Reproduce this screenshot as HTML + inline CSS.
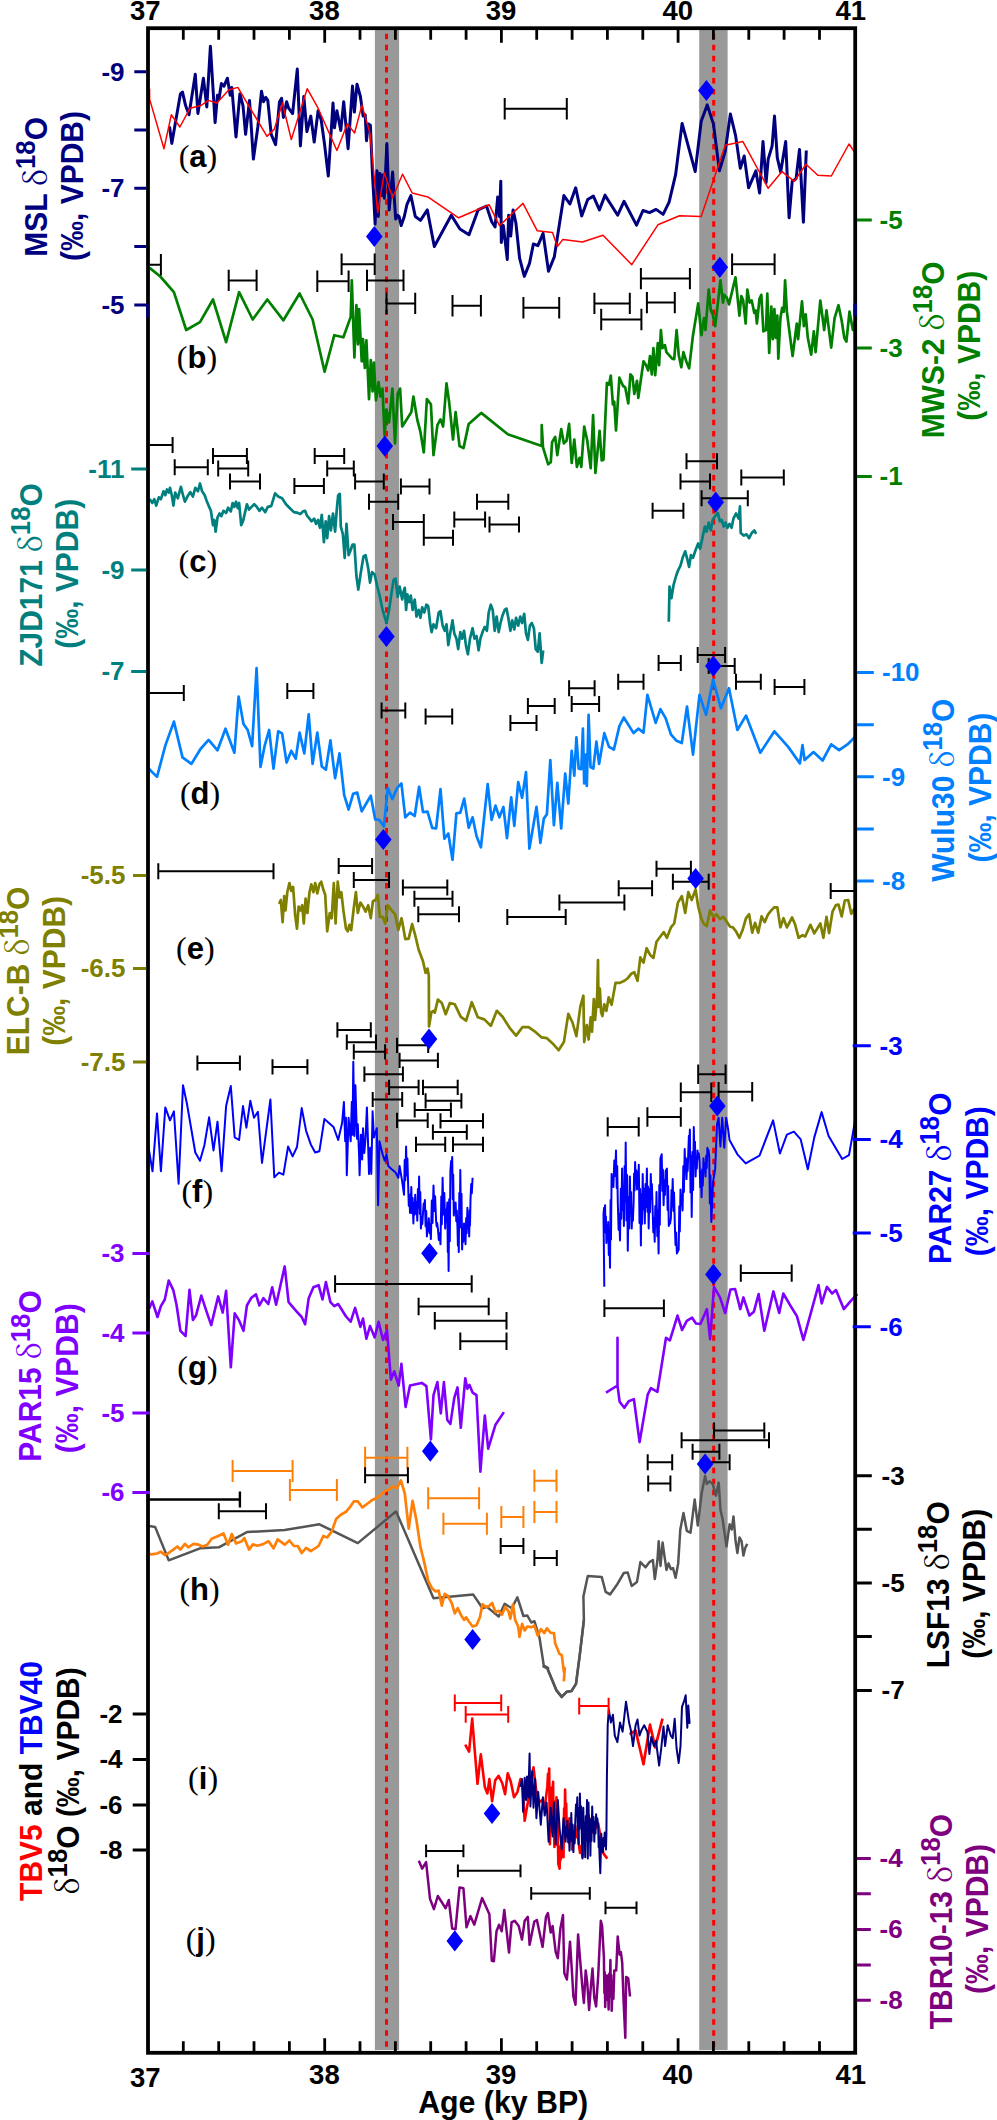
<!DOCTYPE html>
<html><head><meta charset="utf-8"><title>Figure</title>
<style>html,body{margin:0;padding:0;background:#fff}svg{display:block}.sa{font-family:"Liberation Sans",Arial,Helvetica,sans-serif;font-weight:bold}.sd{font-family:"Noto Serif CJK SC","Liberation Serif",serif;font-weight:normal}.se{font-family:"Liberation Serif","Times New Roman",serif;font-weight:normal}</style></head>
<body>
<svg width="997" height="2120" viewBox="0 0 997 2120">
<rect x="0" y="0" width="997" height="2120" fill="#fff"/>
<rect x="374.9" y="30" width="24.2" height="2020" fill="#999"/>
<rect x="699.2" y="30" width="28.4" height="2020" fill="#999"/>
<path d="M386.5 33.8V2050 M713.7 33.8V2050" stroke="#f00" stroke-width="3.0" stroke-dasharray="5.5 5.53" fill="none"/>
<polyline points="169.5,126.5 171.8,143.4 180.4,93.9 182.5,92.1 185.6,105.6 189.0,114.8 195.3,74.3 197.9,113.5 203.4,78.2 206.8,106.9 210.4,46.2 215.1,122.6 217.5,95.2 219.0,99.1 221.4,83.5 224.0,86.1 227.4,78.2 230.2,95.2 231.8,87.4 236.0,136.9 239.9,93.9 243.0,105.6 245.6,134.3 249.5,100.4 253.4,159.1 257.9,126.5 261.5,91.3 263.6,101.7 265.7,97.3 267.8,100.4 271.2,134.3 275.6,144.7 279.5,101.7 281.6,98.3 283.4,117.4 286.6,101.7 288.6,108.2 292.6,113.5 297.3,69.1 300.4,146.0 303.8,96.5 306.9,131.7 310.8,116.1 314.2,142.1 318.1,110.8 321.2,120.0 324.6,144.7 328.3,176.0 333.0,103.0 334.5,127.8 336.9,110.8 340.8,130.4 343.7,101.7 348.1,148.7 352.5,86.1 354.4,112.1 357.0,84.2 360.4,96.5 363.1,116.1 365.2,114.8 366.5,140.8 368.3,123.9 370.4,125.2 372.5,174.7 373.6,194.3 375.1,224.3 377.0,170.8 378.3,216.5 379.8,173.4 381.4,195.6 382.9,174.7 384.3,198.2 386.9,143.5 389.2,209.9 392.6,172.1 395.7,219.1 397.8,215.2 399.1,216.5 401.2,225.6 404.3,216.5 406.9,204.7 410.9,195.6 415.3,216.5 420.5,220.4 427.3,209.9 434.3,246.5 451.3,215.2 459.9,229.0 469.0,234.7 478.1,209.9 486.5,206.0 491.7,221.7 495.1,226.9 497.7,196.9 499.5,216.5 500.8,181.3 501.3,242.5 503.4,225.6 505.0,239.9 507.3,259.5 508.6,215.2 510.7,236.0 513.1,209.9 515.9,223.0 519.6,258.2 524.3,276.4 529.5,263.4 533.4,243.9 537.9,245.7 543.1,233.4 548.5,271.2 554.3,256.9 563.9,195.6 569.9,204.0 575.7,187.8 581.7,215.9 587.7,199.5 593.4,196.1 599.4,209.9 605.1,195.1 605.2,195.6 617.7,215.2 624.0,201.3 636.5,225.1 643.0,210.5 649.5,212.6 656.1,209.4 663.1,214.4 669.1,202.1 675.6,174.7 682.1,123.4 695.2,171.6 701.2,121.3 707.2,104.9 713.4,123.9 719.4,170.8 725.2,151.3 730.4,114.0 735.6,135.6 740.3,168.2 744.2,156.0 748.6,187.8 755.9,170.8 759.6,193.0 763.0,141.4 766.1,182.6 768.2,159.1 772.1,146.1 774.5,116.1 777.3,157.8 780.7,172.1 785.7,141.6 789.1,217.8 792.2,181.3 796.1,178.7 799.5,149.4 803.4,222.2 806.3,150.5" fill="none" stroke="#00007f" stroke-width="3.0" stroke-linejoin="round" />
<polyline points="149.6,88.7 149.6,99.1 164.0,148.7 171.3,114.8 179.9,127.0 190.1,108.2 200.8,105.6 208.3,100.4 216.9,103.0 228.7,90.0 237.8,87.4 267.0,136.4 274.3,129.1 282.4,103.0 291.3,139.5 307.2,88.7 318.1,108.2 336.9,150.5 347.3,123.9 354.6,133.0 361.9,105.1 369.9,133.0 377.7,212.6 384.3,172.7 392.6,197.7 402.5,174.2 412.2,193.0 427.8,196.9 458.6,217.8 489.1,204.7 499.5,225.6 523.0,203.4 537.3,230.8 552.5,232.6 557.4,246.5 562.9,239.4 582.4,242.0 603.0,235.2 631.8,264.7 657.9,224.8 679.5,215.7 701.2,216.5 725.2,145.3 742.9,141.6 768.2,188.3 782.0,171.6 794.3,181.3 806.0,164.3 817.8,175.3 831.3,176.0 849.0,144.0 855.0,152.6" fill="none" stroke="#ff0000" stroke-width="1.5" stroke-linejoin="round" />
<polyline points="149.6,267.9 160.3,276.5 173.9,292.2 186.2,330.0 200.0,322.1 213.0,299.5 226.1,342.2 239.1,292.2 252.7,319.5 267.3,299.5 283.4,320.3 299.6,293.5 312.6,319.5 324.6,371.7 334.3,335.2 343.4,337.3 350.7,316.9 351.8,280.4 354.4,357.4 356.4,305.2 358.0,344.3 359.1,309.1 361.7,361.3 363.0,339.1 364.8,367.8 366.4,340.4 369.0,399.1 370.8,360.0 372.6,391.3 373.9,362.6 376.0,400.4 378.6,382.1 380.4,396.5 382.5,388.6 384.6,435.6 386.4,409.5 389.0,422.5 392.4,388.6 395.0,443.4 397.7,393.9 400.1,388.6 402.2,426.5 404.8,422.5 411.3,412.1 413.4,396.5 417.3,419.9 420.4,431.7 423.8,452.5 426.9,399.1 430.9,404.3 433.5,455.1 437.4,425.2 440.5,419.4 443.1,426.5 446.5,383.4 449.1,401.7 453.0,439.5 455.6,412.1 459.5,446.0 463.5,448.1 468.7,423.9 481.2,412.9 507.8,434.3 541.7,446.0 541.7,425.2 543.0,447.3 548.2,464.3 550.8,462.2 552.1,442.1 555.2,436.9 557.3,455.1 561.2,429.1 563.9,443.4 566.5,440.8 569.1,423.9 571.7,463.0 574.3,439.5 576.9,466.9 579.5,457.8 581.3,466.9 584.2,426.5 587.3,440.8 590.7,468.2 593.1,415.2 595.4,472.9 599.6,430.9 601.7,460.4 603.5,459.8 606.9,382.9 609.0,384.7 610.8,375.6 612.9,404.3 614.2,401.7 616.0,430.4 619.4,377.7 623.1,386.0 625.2,387.3 628.3,403.5 630.4,374.3 632.5,376.9 634.3,393.9 637.0,380.8 638.3,397.8 643.5,361.3 646.1,365.2 648.2,370.4 650.0,356.0 651.8,374.3 653.4,348.2 655.2,375.1 657.8,343.0 659.1,365.2 660.9,330.0 662.5,348.2 664.9,345.1 666.4,352.1 672.2,358.7 674.2,359.2 676.6,330.0 678.7,354.7 681.3,367.3 683.4,352.1 686.5,362.0 689.1,368.3 693.0,335.2 698.2,303.4 701.4,335.2 704.0,318.2 705.5,330.0 708.7,289.5 710.8,310.4 712.6,313.8 715.2,326.1 720.4,280.4 723.0,302.6 724.3,294.8 726.9,297.9 729.0,304.4 735.5,277.3 739.4,315.6 741.3,296.1 743.1,300.0 745.7,323.5 747.3,289.5 749.6,302.6 751.7,300.5 754.3,313.0 755.6,310.4 756.9,323.5 759.5,298.7 761.3,294.8 763.4,331.3 766.0,330.0 767.3,293.5 769.2,352.9 771.3,306.5 772.8,339.1 774.4,309.1 775.7,337.8 777.3,315.6 778.3,358.7 780.4,318.2 782.2,307.8 783.8,311.7 785.1,280.4 786.9,311.7 788.7,326.1 792.6,356.0 796.8,323.5 798.1,339.1 802.0,301.3 803.9,326.1 805.7,314.3 807.8,337.8 811.2,354.7 813.8,331.3 815.6,352.1 820.3,300.5 824.2,330.0 826.5,310.4 831.2,347.7 834.6,318.2 838.5,305.2 841.7,320.8 844.3,337.8 846.4,341.7 849.5,311.7 852.9,330.0 856.0,318.2" fill="none" stroke="#007f00" stroke-width="2.7" stroke-linejoin="round" />
<path d="M504.7 108.8 H566.8 M504.7 98.1 V119.5 M566.8 98.1 V119.5 M149.6 264.8 H160.9 M160.9 254.1 V275.5 M228.7 280.4 H256.6 M228.7 269.7 V291.1 M256.6 269.7 V291.1 M317.3 281.2 H348.6 M317.3 270.5 V291.9 M348.6 270.5 V291.9 M341.6 264.3 H374.7 M341.6 253.6 V275.0 M374.7 253.6 V275.0 M367.0 280.4 H403.5 M367.0 269.7 V291.1 M403.5 269.7 V291.1 M386.5 303.4 H415.2 M386.5 292.7 V314.1 M415.2 292.7 V314.1 M452.5 305.7 H480.9 M452.5 295.0 V316.4 M480.9 295.0 V316.4 M523.4 307.8 H559.2 M523.4 297.1 V318.5 M559.2 297.1 V318.5 M594.4 303.4 H629.8 M594.4 292.7 V314.1 M629.8 292.7 V314.1 M601.2 319.5 H641.4 M601.2 308.8 V330.2 M641.4 308.8 V330.2 M640.9 278.6 H689.9 M640.9 267.9 V289.3 M689.9 267.9 V289.3 M646.9 302.6 H674.8 M646.9 291.9 V313.3 M674.8 291.9 V313.3 M732.1 264.3 H774.6 M732.1 253.6 V275.0 M774.6 253.6 V275.0" fill="none" stroke="#000" stroke-width="2.0"/>
<polyline points="149.6,499.1 152.3,503.0 154.3,499.1 156.2,505.6 158.8,497.3 160.9,499.1 163.5,491.3 165.3,495.2 166.9,489.5 168.7,492.6 170.0,487.9 171.8,495.2 173.4,505.6 175.2,492.6 177.8,498.3 180.9,486.9 183.0,495.2 184.9,501.7 188.2,495.2 190.3,492.1 192.9,496.5 195.3,487.9 197.9,491.3 200.0,483.5 202.1,491.3 204.7,495.2 206.5,500.4 208.6,505.6 210.9,510.8 213.0,525.2 214.3,520.0 215.6,531.7 217.5,517.4 219.5,513.5 221.4,516.1 223.5,510.8 226.1,512.9 228.1,507.7 230.8,511.4 232.6,503.0 234.4,506.9 236.0,501.7 237.8,508.2 239.1,503.0 241.2,525.2 243.0,521.3 245.1,512.1 246.9,504.3 249.0,509.5 251.6,506.9 254.2,504.3 256.8,506.9 259.4,510.8 262.0,507.7 265.2,512.1 267.8,506.9 271.2,506.1 275.1,493.4 278.2,496.5 282.1,498.3 286.0,504.3 289.9,508.2 293.9,512.1 297.8,512.9 300.4,514.0 303.0,511.4 305.1,510.8 306.9,515.5 309.5,518.7 311.6,521.3 314.2,518.7 316.0,523.9 318.1,520.0 319.9,527.8 321.8,514.8 323.9,542.1 325.7,521.3 327.2,538.2 329.1,516.1 330.9,530.4 333.0,513.5 335.1,531.7 336.9,508.2 338.2,495.2 339.8,493.9 340.8,526.5 342.9,534.3 344.7,557.8 346.5,523.9 348.6,555.2 350.7,550.0 352.5,544.7 354.4,544.7 356.4,576.0 358.3,589.6 361.1,570.8 363.5,556.5 365.6,555.2 368.2,568.2 370.0,582.6 372.1,572.1 374.7,574.7 377.3,586.5 379.9,596.9 382.6,609.9 386.5,623.0 389.1,609.9 391.7,591.7 393.6,579.9 395.6,578.6 397.7,596.9 399.6,586.5 402.2,599.5 403.5,591.7 404.8,587.8 406.1,609.9 407.4,594.3 409.2,602.1 410.8,595.6 412.6,609.9 414.7,599.5 416.5,616.5 418.6,609.9 420.4,617.8 422.2,607.3 424.3,612.5 426.4,604.7 428.2,606.0 430.1,623.0 431.6,632.1 433.5,624.3 436.1,628.2 438.7,612.5 440.5,611.2 442.6,625.6 444.7,630.8 446.5,624.3 448.3,645.1 450.4,632.1 452.5,620.4 454.3,633.4 456.4,638.6 458.2,649.1 460.3,632.1 462.1,638.6 464.0,630.8 466.1,646.4 467.9,654.3 470.0,638.6 472.6,628.2 474.4,638.6 476.5,636.0 478.6,650.4 480.4,638.6 483.0,630.8 484.8,626.9 486.9,630.8 488.7,612.5 490.8,604.7 492.7,609.9 494.7,630.8 496.6,616.5 498.7,632.1 500.5,623.0 502.6,615.2 504.7,609.9 506.5,608.6 508.3,617.8 510.4,630.8 512.2,620.4 514.3,629.5 516.1,617.8 518.2,625.6 520.3,616.5 522.1,623.0 524.2,613.9 526.0,633.4 527.9,639.9 529.9,625.6 531.8,623.0 533.9,628.2 535.7,649.1 537.8,651.7 539.6,633.4 541.7,662.9 543.2,650.4" fill="none" stroke="#007f7f" stroke-width="2.7" stroke-linejoin="round" />
<polyline points="668.8,621.7 669.5,586.5 671.4,598.2 673.5,585.2 676.1,576.0 677.9,570.8 680.5,565.6 682.6,557.8 685.2,551.3 687.3,559.1 689.1,566.9 690.9,555.2 693.0,557.8 695.6,550.0 698.2,543.4 700.1,548.7 702.1,539.5 704.8,526.5 706.6,531.7 708.7,522.6 710.8,530.4 712.6,520.0 715.2,516.1 717.8,512.9 719.9,521.3 721.7,520.0 723.8,526.5 725.6,522.6 727.4,527.8 729.5,523.9 731.6,527.8 733.4,518.7 736.0,513.5 738.7,518.7 740.0,506.4 740.7,533.0 743.9,535.6 746.5,534.3 749.1,538.2 751.7,533.0 754.3,530.4 756.1,533.8" fill="none" stroke="#007f7f" stroke-width="2.7" stroke-linejoin="round" />
<path d="M149.6 445.1 H172.6 M172.6 437.1 V453.1 M174.7 467.3 H207.8 M174.7 459.3 V475.3 M207.8 459.3 V475.3 M213.0 456.1 H246.9 M213.0 448.1 V464.1 M246.9 448.1 V464.1 M218.2 468.6 H248.2 M218.2 460.6 V476.6 M248.2 460.6 V476.6 M230.0 481.4 H260.0 M230.0 473.4 V489.4 M260.0 473.4 V489.4 M294.4 486.1 H323.9 M294.4 478.1 V494.1 M323.9 478.1 V494.1 M314.7 456.1 H344.2 M314.7 448.1 V464.1 M344.2 448.1 V464.1 M327.2 468.6 H353.8 M327.2 460.6 V476.6 M353.8 460.6 V476.6 M355.1 481.4 H383.8 M355.1 473.4 V489.4 M383.8 473.4 V489.4 M369.0 501.7 H398.2 M369.0 493.7 V509.7 M398.2 493.7 V509.7 M400.9 486.6 H429.5 M400.9 478.6 V494.6 M429.5 478.6 V494.6 M393.0 522.1 H423.8 M393.0 514.1 V530.1 M423.8 514.1 V530.1 M423.8 537.7 H453.0 M423.8 529.7 V545.7 M453.0 529.7 V545.7 M454.3 519.4 H485.1 M454.3 511.4 V527.4 M485.1 511.4 V527.4 M477.0 501.7 H508.3 M477.0 493.7 V509.7 M508.3 493.7 V509.7 M489.5 524.4 H519.0 M489.5 516.4 V532.4 M519.0 516.4 V532.4 M686.5 461.3 H717.0 M686.5 453.3 V469.3 M717.0 453.3 V469.3 M680.5 481.4 H710.0 M680.5 473.4 V489.4 M710.0 473.4 V489.4 M741.3 477.5 H783.8 M741.3 469.5 V485.5 M783.8 469.5 V485.5 M701.6 498.3 H747.8 M701.6 490.3 V506.3 M747.8 490.3 V506.3 M652.6 510.8 H683.4 M652.6 502.8 V518.8 M683.4 502.8 V518.8" fill="none" stroke="#000" stroke-width="2.0"/>
<polyline points="147.8,767.8 157.0,776.9 165.3,745.6 173.9,721.6 182.5,757.4 191.4,763.9 200.5,749.0 208.6,739.9 217.5,750.3 225.5,728.7 234.4,752.7 238.6,696.6 243.5,724.0 247.7,730.0 252.1,746.1 256.6,668.2 260.5,767.0 264.7,745.6 269.1,730.0 273.5,768.6 278.2,731.3 282.1,733.4 286.6,762.6 291.3,750.8 295.7,758.7 299.6,732.6 304.3,753.4 308.7,714.3 312.6,763.9 317.3,732.6 321.8,766.5 325.9,769.6 330.4,740.4 335.1,778.2 339.5,753.4 344.2,795.2 348.6,809.5 353.1,793.9 357.2,792.6 361.7,811.3 370.8,795.7 375.2,819.4 379.4,819.9 383.9,826.5 387.8,788.1 392.3,799.1 397.0,788.1 401.4,783.4 405.3,817.3 410.0,812.6 414.7,816.0 419.1,786.8 423.0,812.1 427.5,811.6 432.2,827.8 436.1,828.5 440.5,789.2 444.4,838.7 448.3,833.5 452.5,859.8 456.4,813.4 460.3,812.6 464.2,798.6 468.7,827.8 472.6,817.3 476.5,836.1 480.9,847.3 487.7,784.2 491.6,819.9 495.5,805.6 499.4,817.3 503.4,806.9 507.0,838.2 511.2,797.3 514.3,825.9 518.2,782.1 522.1,797.8 526.0,772.2 529.4,848.6 536.5,806.9 540.4,842.9 543.8,818.6 546.9,814.2 550.3,760.0 553.9,825.2 557.3,782.9 561.2,828.3 565.2,773.5 568.3,803.5 571.7,750.8 574.3,775.6 576.4,737.3 578.7,768.6 581.3,769.1 582.9,728.7 584.2,783.4 586.0,754.7 586.8,786.0 588.6,714.8 590.5,767.0 593.3,768.6 596.4,741.7 599.1,763.9 604.3,733.1 609.0,746.9 613.9,749.5 619.4,726.1 623.8,717.5 633.6,733.1 638.3,728.7 643.5,732.6 647.4,694.8 655.7,722.9 660.4,709.1 665.6,718.2 670.9,734.4 676.1,740.4 681.8,743.0 687.0,706.5 693.0,754.7 699.5,694.8 706.1,714.8 713.1,679.6 720.9,708.3 729.0,688.2 737.4,730.0 746.0,715.6 760.3,752.7 774.4,731.3 788.2,746.9 799.9,763.4 802.5,745.1 804.6,760.0 813.5,752.1 822.6,760.5 831.2,744.3 839.1,750.1 848.2,743.8 856.0,736.0" fill="none" stroke="#007fff" stroke-width="2.7" stroke-linejoin="round" />
<path d="M149.6 692.9 H183.8 M183.8 684.9 V700.9 M287.3 690.9 H313.4 M287.3 682.9 V698.9 M313.4 682.9 V698.9 M381.6 710.4 H405.3 M381.6 702.4 V718.4 M405.3 702.4 V718.4 M425.6 716.4 H452.2 M425.6 708.4 V724.4 M452.2 708.4 V724.4 M510.4 722.9 H536.5 M510.4 714.9 V730.9 M536.5 714.9 V730.9 M527.9 706.0 H554.7 M527.9 698.0 V714.0 M554.7 698.0 V714.0 M569.1 688.2 H594.6 M569.1 680.2 V696.2 M594.6 680.2 V696.2 M571.7 703.9 H599.1 M571.7 695.9 V711.9 M599.1 695.9 V711.9 M618.2 681.7 H643.5 M618.2 673.7 V689.7 M643.5 673.7 V689.7 M658.6 662.9 H680.8 M658.6 654.9 V670.9 M680.8 654.9 V670.9 M697.7 655.1 H725.1 M697.7 647.1 V663.1 M725.1 647.1 V663.1 M708.7 666.1 H734.7 M708.7 658.1 V674.1 M734.7 658.1 V674.1 M736.0 681.7 H760.8 M736.0 673.7 V689.7 M760.8 673.7 V689.7 M774.6 686.9 H804.4 M774.6 678.9 V694.9 M804.4 678.9 V694.9" fill="none" stroke="#000" stroke-width="2.0"/>
<polyline points="279.0,903.9 280.8,900.0 282.6,922.1 284.2,896.1 285.5,910.4 287.3,892.2 289.4,883.0 291.3,890.9 293.1,886.9 295.2,915.6 297.0,928.7 298.6,906.5 300.4,910.4 302.2,905.2 303.8,923.5 305.6,898.7 307.4,913.0 309.5,892.2 311.3,884.3 313.4,892.2 315.2,883.0 317.3,893.5 319.4,884.3 321.2,881.7 323.3,889.5 325.2,894.8 327.2,931.3 329.8,913.0 331.7,918.2 333.8,883.0 335.6,923.5 337.7,881.7 339.5,897.4 341.3,892.2 343.4,910.4 346.0,928.7 347.8,931.3 349.4,924.8 351.2,930.0 353.8,907.8 355.9,892.2 357.8,913.0 360.4,902.6 363.0,906.5 365.6,911.7 368.2,905.2 370.8,918.2 372.9,901.3 375.5,900.0 377.8,894.8 379.9,916.9 382.6,916.9 385.2,923.5 387.8,905.2 391.7,910.4 395.1,914.3 398.3,930.0 401.6,918.2 405.3,939.1 408.7,938.6 412.1,924.0 415.2,935.2 418.6,949.5 423.0,961.3 425.6,973.0 427.5,968.6 428.8,975.6 429.0,1026.5 431.4,1012.1 433.5,1010.8 434.8,1012.6 437.9,999.6 441.8,1003.0 445.7,1014.2 449.9,1003.0 454.8,1004.3 460.8,1016.8 466.1,1020.7 471.8,1002.2 477.8,1017.3 484.3,1019.4 490.8,1025.9 496.8,1010.8 502.6,1016.8 509.6,1027.8 516.1,1035.6 522.6,1027.0 528.6,1027.2 535.7,1032.2 541.7,1037.4 546.9,1038.2 552.6,1043.4 558.6,1050.2 563.9,1042.1 568.3,1013.9 572.5,1022.5 576.4,1036.1 580.3,1006.9 583.4,995.7 584.2,1042.1 586.8,1025.2 588.6,1039.5 590.7,1017.3 592.0,1031.7 593.8,999.1 595.1,1019.9 597.2,995.2 598.0,960.0 598.5,1006.9 599.8,988.6 601.1,1012.1 602.4,1016.0 604.3,1004.3 606.4,1010.8 608.7,997.3 611.6,1004.8 615.5,982.9 619.9,982.9 624.4,980.8 627.8,978.2 631.2,973.8 634.3,972.2 637.5,980.8 640.3,957.4 643.5,962.6 646.6,948.2 650.0,954.7 653.4,957.9 656.5,941.7 660.4,936.5 663.8,932.1 666.9,937.8 670.9,927.4 674.2,923.5 677.9,902.6 681.8,896.1 685.2,913.0 688.3,892.2 691.7,900.0 695.6,889.5 698.2,906.5 700.8,916.9 703.5,923.5 706.8,926.1 710.0,910.4 713.4,916.9 716.5,914.3 719.9,919.0 723.5,916.9 726.9,922.1 730.1,926.8 732.9,927.4 736.0,931.3 739.4,937.8 742.6,930.0 746.0,918.2 749.1,914.3 752.2,932.6 755.1,922.9 758.2,932.6 761.6,916.4 764.7,922.1 768.1,914.3 771.3,910.4 774.4,907.3 777.3,907.3 780.4,927.4 783.5,918.2 786.9,927.4 792.1,917.5 795.2,924.8 798.6,937.8 802.5,935.2 805.2,936.5 810.4,924.8 814.3,933.4 820.3,923.5 823.4,937.8 826.5,916.9 829.1,933.1 832.5,911.7 835.9,905.2 838.5,904.7 841.7,916.4 844.8,900.5 848.2,900.0 851.3,913.8 854.7,908.3" fill="none" stroke="#7f7f00" stroke-width="2.7" stroke-linejoin="round" />
<path d="M158.3 871.3 H273.5 M158.3 863.3 V879.3 M273.5 863.3 V879.3 M338.7 866.1 H372.1 M338.7 858.1 V874.1 M372.1 858.1 V874.1 M353.8 879.9 H389.0 M353.8 871.9 V887.9 M389.0 871.9 V887.9 M402.9 887.5 H447.3 M402.9 879.5 V895.5 M447.3 879.5 V895.5 M414.4 898.7 H452.5 M414.4 890.7 V906.7 M452.5 890.7 V906.7 M418.3 914.3 H459.0 M418.3 906.3 V922.3 M459.0 906.3 V922.3 M507.3 916.9 H565.7 M507.3 908.9 V924.9 M565.7 908.9 V924.9 M559.4 902.6 H624.4 M559.4 894.6 V910.6 M624.4 894.6 V910.6 M618.7 888.2 H652.1 M618.7 880.2 V896.2 M652.1 880.2 V896.2 M656.5 868.7 H690.9 M656.5 860.7 V876.7 M690.9 860.7 V876.7 M672.9 881.7 H708.7 M672.9 873.7 V889.7 M708.7 873.7 V889.7 M830.7 890.9 H855.5 M830.7 882.9 V898.9" fill="none" stroke="#000" stroke-width="2.0"/>
<polyline points="147.8,1142.6 152.5,1171.3 157.0,1113.4 160.9,1171.3 165.3,1107.4 170.0,1120.4 173.9,1111.3 178.6,1183.8 183.0,1085.2 186.9,1103.5 195.3,1152.5 200.0,1160.8 204.4,1145.2 209.1,1117.3 213.5,1150.4 217.5,1121.7 221.6,1171.3 226.1,1106.1 230.8,1086.0 234.7,1137.4 239.1,1140.0 243.0,1106.1 246.4,1127.7 250.3,1100.8 254.0,1117.8 257.9,1111.8 262.0,1162.9 270.4,1099.5 274.3,1177.3 279.0,1172.6 283.4,1174.6 288.1,1146.5 292.6,1156.4 297.0,1147.0 301.7,1108.1 306.1,1130.8 310.8,1144.4 315.2,1152.5 319.4,1151.2 324.4,1119.1 333.5,1126.9 338.2,1140.0 342.1,1123.0 343.9,1102.1 345.2,1141.3 346.0,1117.8 346.8,1175.2 348.6,1117.8 350.7,1141.3 351.8,1102.1 352.5,1134.7 353.3,1061.7 354.4,1136.0 355.4,1085.2 357.0,1138.7 357.8,1124.3 359.1,1155.6 359.6,1175.2 360.9,1134.7 362.2,1159.5 363.0,1128.2 364.3,1153.0 365.6,1137.4 366.9,1107.4 368.2,1147.8 369.0,1173.9 370.3,1147.8 371.3,1173.9 372.6,1111.3 373.9,1137.4 376.8,1128.2 378.1,1205.2 379.4,1141.3 382.6,1154.3 384.7,1160.8 386.5,1154.3 388.3,1166.0 391.7,1169.2 395.6,1172.6 398.3,1177.8 399.6,1166.0 402.2,1181.7 404.0,1194.7 404.7,1160.0 405.3,1180.3 406.1,1146.5 406.8,1175.6 407.4,1158.6 408.2,1186.9 408.8,1205.7 409.3,1194.7 410.0,1213.0 410.5,1194.2 410.8,1205.2 411.3,1186.9 412.0,1213.2 412.6,1197.9 413.4,1223.4 414.0,1202.8 414.5,1214.8 415.2,1194.7 416.0,1213.5 416.5,1202.5 417.3,1220.8 417.9,1188.9 418.5,1207.5 419.1,1176.5 419.8,1214.0 420.3,1192.1 420.9,1228.6 421.7,1217.4 422.3,1223.9 423.0,1213.0 423.7,1203.6 424.2,1209.1 424.9,1199.9 425.6,1226.2 426.2,1210.9 426.9,1236.4 427.6,1223.3 428.1,1231.0 428.8,1218.2 429.5,1233.2 430.1,1224.5 430.9,1239.1 431.8,1200.6 432.5,1223.0 433.5,1185.6 434.4,1210.9 435.1,1196.2 436.1,1220.8 436.7,1226.4 437.2,1223.1 437.9,1228.6 438.8,1239.9 439.6,1233.3 440.5,1244.3 441.3,1196.4 441.8,1224.3 442.6,1177.8 443.5,1214.4 444.3,1193.0 445.2,1228.6 445.9,1209.8 446.5,1220.8 447.3,1202.5 447.8,1251.9 448.1,1223.1 448.6,1271.1 449.2,1199.2 449.8,1241.2 450.4,1171.3 451.1,1160.9 451.6,1167.0 452.2,1156.9 452.8,1199.2 453.2,1174.5 453.8,1215.6 454.5,1206.2 455.0,1211.7 455.6,1202.5 456.3,1221.3 456.8,1210.4 457.5,1228.6 457.9,1245.5 458.3,1235.7 458.8,1252.1 459.3,1193.0 459.8,1227.5 460.3,1169.9 461.0,1227.2 461.5,1193.8 462.1,1249.5 462.8,1230.7 463.3,1241.7 464.0,1223.4 464.5,1238.4 465.0,1229.7 465.5,1244.3 466.2,1218.0 466.7,1233.3 467.4,1207.8 468.0,1228.4 468.5,1216.4 469.2,1236.4 469.7,1210.2 470.0,1225.5 470.5,1199.9 471.2,1184.0 471.8,1193.3 472.6,1177.8" fill="none" stroke="#0000ff" stroke-width="2.0" stroke-linejoin="round" />
<polyline points="604.3,1286.8 603.5,1214.3 604.1,1207.7 604.5,1211.5 605.1,1205.2 605.5,1232.4 605.9,1216.5 606.4,1243.0 607.0,1227.9 607.5,1236.7 608.2,1222.1 608.8,1255.0 609.4,1235.8 610.0,1267.7 610.6,1200.1 611.0,1239.6 611.6,1173.9 612.2,1183.2 612.7,1177.8 613.4,1186.9 614.3,1160.6 615.1,1175.9 616.0,1150.4 616.7,1187.9 617.2,1166.0 617.8,1202.5 618.6,1229.8 619.2,1213.9 620.0,1240.4 620.8,1188.7 621.3,1218.8 622.1,1168.6 622.7,1210.0 623.3,1185.9 623.9,1226.0 624.6,1165.9 625.1,1201.0 625.7,1142.6 626.5,1220.5 627.1,1175.0 627.8,1250.8 628.6,1197.3 629.2,1228.5 629.9,1176.5 630.6,1214.0 631.1,1192.1 631.7,1228.6 632.4,1209.8 632.9,1220.8 633.6,1202.5 634.1,1173.4 634.6,1190.4 635.1,1162.1 635.8,1181.8 636.3,1170.3 637.0,1189.5 637.6,1171.7 638.1,1182.1 638.8,1164.7 639.5,1222.9 640.1,1189.0 640.9,1245.6 641.5,1193.9 642.0,1224.1 642.7,1173.9 643.4,1209.5 644.0,1188.7 644.8,1223.4 645.5,1184.0 646.1,1207.0 646.9,1168.6 647.5,1211.8 648.0,1186.6 648.7,1228.6 649.4,1189.2 650.0,1212.2 650.8,1173.9 651.4,1198.3 651.9,1184.0 652.6,1207.8 653.3,1232.2 653.9,1217.9 654.7,1241.7 655.3,1206.0 655.9,1226.8 656.5,1192.1 657.3,1236.2 657.8,1210.5 658.6,1253.4 659.3,1184.9 659.8,1224.8 660.4,1158.2 661.7,1154.3 662.4,1190.9 662.9,1169.6 663.6,1205.2 664.3,1180.7 664.9,1195.0 665.6,1171.3 666.9,1168.6 667.6,1210.0 668.1,1185.9 668.8,1226.0 669.5,1220.4 670.1,1223.7 670.9,1218.2 671.5,1190.0 672.0,1206.5 672.7,1179.1 673.4,1211.0 674.0,1192.4 674.8,1223.4 675.5,1245.0 676.1,1232.4 676.9,1253.4 678.7,1249.5 679.3,1206.3 679.8,1231.5 680.5,1189.5 681.3,1204.5 681.8,1195.8 682.6,1210.4 683.3,1166.2 683.9,1192.0 684.7,1149.1 685.3,1170.7 685.8,1158.1 686.5,1179.1 687.2,1159.4 687.7,1170.9 688.3,1151.7 688.9,1135.7 689.3,1145.0 689.9,1129.5 690.5,1192.4 691.1,1155.7 691.7,1216.9 692.5,1152.1 693.1,1189.9 693.8,1126.9 694.5,1162.6 695.0,1141.8 695.6,1176.5 696.3,1157.7 696.8,1168.6 697.5,1150.4 698.2,1157.9 698.8,1153.5 699.5,1160.8 700.3,1187.1 700.9,1171.8 701.6,1197.3 702.3,1169.2 702.8,1185.6 703.5,1158.2 704.2,1171.4 704.8,1163.7 705.5,1176.5 706.2,1155.8 706.7,1167.9 707.4,1147.8 708.0,1153.4 708.5,1150.1 709.2,1155.6 709.9,1203.5 710.5,1175.6 711.3,1222.1 713.1,1181.7 715.2,1168.6 717.0,1124.3 718.6,1117.8 720.4,1146.5 722.2,1117.8 724.3,1147.8 726.1,1117.8 728.2,1129.5 729.5,1140.0 737.4,1154.3 745.7,1163.4 759.5,1155.6 773.1,1120.4 779.9,1153.5 786.9,1134.7 793.9,1131.6 800.7,1139.4 807.8,1169.2 814.3,1137.4 821.6,1112.1 828.6,1136.0 842.2,1159.0 849.0,1155.1 855.5,1118.3" fill="none" stroke="#0000ff" stroke-width="2.0" stroke-linejoin="round" />
<path d="M197.4 1063.0 H239.9 M197.4 1055.4 V1070.6 M239.9 1055.4 V1070.6 M272.5 1066.9 H307.4 M272.5 1059.3 V1074.5 M307.4 1059.3 V1074.5 M337.4 1029.9 H370.8 M337.4 1022.3 V1037.5 M370.8 1022.3 V1037.5 M346.8 1042.2 H376.0 M346.8 1034.6 V1049.8 M376.0 1034.6 V1049.8 M353.8 1051.8 H385.1 M353.8 1044.2 V1059.4 M385.1 1044.2 V1059.4 M397.0 1045.3 H428.2 M397.0 1037.7 V1052.9 M428.2 1037.7 V1052.9 M399.6 1060.4 H437.9 M399.6 1052.8 V1068.0 M437.9 1052.8 V1068.0 M364.4 1074.2 H402.9 M364.4 1066.6 V1081.8 M402.9 1066.6 V1081.8 M389.1 1087.3 H418.6 M389.1 1079.7 V1094.9 M418.6 1079.7 V1094.9 M423.0 1087.3 H457.7 M423.0 1079.7 V1094.9 M457.7 1079.7 V1094.9 M372.7 1099.5 H402.2 M372.7 1091.9 V1107.1 M402.2 1091.9 V1107.1 M425.6 1100.8 H461.4 M425.6 1093.2 V1108.4 M461.4 1093.2 V1108.4 M414.7 1110.0 H450.9 M414.7 1102.4 V1117.6 M450.9 1102.4 V1117.6 M397.0 1120.4 H427.7 M397.0 1112.8 V1128.0 M427.7 1112.8 V1128.0 M440.5 1120.9 H483.0 M440.5 1113.3 V1128.5 M483.0 1113.3 V1128.5 M432.9 1132.1 H466.8 M432.9 1124.5 V1139.7 M466.8 1124.5 V1139.7 M416.0 1144.4 H445.2 M416.0 1136.8 V1152.0 M445.2 1136.8 V1152.0 M453.0 1144.4 H483.0 M453.0 1136.8 V1152.0 M483.0 1136.8 V1152.0" fill="none" stroke="#000" stroke-width="2.0"/>
<path d="M607.7 1126.9 H638.7 M607.7 1117.2 V1136.6 M638.7 1117.2 V1136.6 M647.4 1117.0 H680.8 M647.4 1107.3 V1126.7 M680.8 1107.3 V1126.7 M680.8 1092.2 H711.3 M680.8 1082.5 V1101.9 M711.3 1082.5 V1101.9 M698.2 1074.2 H725.6 M698.2 1064.5 V1083.9 M725.6 1064.5 V1083.9 M718.6 1091.7 H752.2 M718.6 1082.0 V1101.4 M752.2 1082.0 V1101.4" fill="none" stroke="#000" stroke-width="2.0"/>
<polyline points="149.1,1308.7 152.3,1301.4 157.5,1317.0 160.9,1306.1 164.8,1299.5 168.7,1280.5 173.4,1290.4 176.5,1304.8 180.4,1330.8 185.6,1336.0 189.5,1289.9 192.9,1319.9 196.1,1315.2 201.3,1295.6 206.5,1311.3 211.2,1325.1 218.2,1296.4 222.7,1312.6 226.1,1290.9 230.8,1367.3 234.7,1313.4 239.1,1320.4 243.5,1330.8 246.9,1305.5 251.4,1297.7 256.0,1294.3 259.4,1305.5 263.4,1298.2 268.3,1304.0 272.2,1287.3 276.1,1304.8 284.7,1266.4 288.6,1302.1 296.5,1311.3 301.7,1317.0 305.1,1324.3 308.7,1298.2 313.4,1287.3 318.6,1285.2 322.5,1299.5 325.9,1282.1 330.4,1302.1 334.3,1306.1 338.2,1304.0 346.0,1316.5 350.7,1321.7 355.1,1307.9 360.4,1326.9 363.0,1318.6 366.4,1338.7 370.0,1326.1 374.7,1337.4 378.6,1321.7 383.0,1340.0 387.0,1330.3 390.9,1379.6 394.3,1371.3 398.7,1385.6 401.4,1363.9 405.6,1406.9 410.0,1385.5 421.7,1382.9 426.4,1386.1 430.9,1439.5 433.5,1395.2 437.4,1382.1 440.8,1413.4 443.9,1382.1 447.3,1420.0 450.4,1423.9 454.3,1397.8 457.5,1387.4 460.8,1427.8 465.3,1378.2 467.4,1388.7 469.4,1384.8 472.6,1392.6 476.5,1395.2 480.4,1471.6 484.8,1415.5 488.2,1448.6 495.5,1424.7 503.9,1412.1" fill="none" stroke="#7f00ff" stroke-width="2.6" stroke-linejoin="round" />
<polyline points="606.0,1392.6 617.5,1385.5 617.5,1337.8 617.5,1385.5 619.6,1401.7 624.3,1407.7 628.7,1401.2 633.9,1399.1 639.6,1442.1 647.7,1394.6 650.9,1388.1 657.4,1391.8 666.0,1337.8 669.9,1340.4 677.5,1315.6 682.1,1330.0 686.8,1320.8 692.1,1317.7 696.0,1323.5 700.4,1324.0 706.9,1309.1 710.1,1339.1 714.0,1286.9 720.0,1297.4 725.2,1313.0 730.4,1289.5 735.1,1289.0 740.3,1309.1 743.4,1297.4 749.4,1315.6 753.9,1311.7 758.6,1294.0 764.3,1330.8 773.4,1291.4 779.2,1313.0 783.3,1293.5 791.7,1307.8 796.9,1316.1 803.4,1339.9 818.5,1285.1 821.7,1303.4 826.9,1286.9 832.1,1293.5 836.0,1290.1 843.8,1309.1 850.4,1301.3 857.4,1294.0" fill="none" stroke="#7f00ff" stroke-width="2.6" stroke-linejoin="round" />
<path d="M335.1 1283.9 H471.7 M335.1 1275.2 V1292.6 M471.7 1275.2 V1292.6 M418.6 1306.5 H488.7 M418.6 1297.8 V1315.2 M488.7 1297.8 V1315.2 M434.8 1320.8 H506.5 M434.8 1312.1 V1329.5 M506.5 1312.1 V1329.5 M460.3 1341.2 H506.5 M460.3 1332.5 V1349.9 M506.5 1332.5 V1349.9 M604.4 1308.3 H663.9 M604.4 1299.6 V1317.0 M663.9 1299.6 V1317.0 M740.8 1273.1 H791.7 M740.8 1264.4 V1281.8 M791.7 1264.4 V1281.8" fill="none" stroke="#000" stroke-width="2.0"/>
<polyline points="146.5,1525.6 155.1,1526.9 168.7,1560.3 200.0,1548.3 218.8,1547.3 246.9,1532.1 284.7,1530.1 319.4,1524.3 357.8,1543.1 395.6,1511.8 396.2,1511.7 433.5,1598.3 473.1,1594.4 482.5,1608.2 486.9,1606.9 498.7,1616.5 504.7,1603.8 511.7,1608.2 517.4,1597.3 523.4,1616.0 527.3,1615.5 531.3,1622.5 534.4,1621.2 539.6,1638.2 543.8,1665.6 548.2,1668.2 543.4,1666.4 547.3,1668.2 556.5,1690.4 561.7,1696.9 566.9,1691.7 571.6,1690.9 576.0,1683.9 579.9,1653.9 583.9,1620.0" fill="none" stroke="#555555" stroke-width="2.5" stroke-linejoin="round" />
<polyline points="543.4,1666.4 547.3,1668.2 556.5,1690.4 561.7,1696.9 566.9,1691.7 571.6,1690.9 576.0,1683.9 579.9,1653.9 583.9,1620.0 583.4,1596.5 587.8,1576.1 601.7,1576.9 605.6,1591.8 610.0,1594.4 617.3,1584.2 623.8,1573.0 627.7,1572.5 631.7,1586.0 636.9,1582.1 640.4,1562.1 645.6,1567.3 649.5,1562.1 652.9,1560.0 654.8,1579.1 657.4,1560.8 658.7,1541.3 660.5,1566.0 662.6,1542.6 664.4,1555.6 666.5,1569.9 668.6,1563.4 670.9,1569.2 673.0,1568.1 675.6,1577.8 678.2,1563.4 680.3,1529.5 683.5,1513.1 686.8,1530.8 690.5,1532.7 694.7,1499.5 697.8,1525.6 701.7,1493.0 705.1,1476.1 706.9,1483.9 709.5,1481.3 712.7,1483.9 716.0,1495.6 718.7,1482.6 720.5,1510.0 722.6,1519.1 726.5,1546.5 729.6,1524.3 731.7,1529.5 733.5,1516.5 735.6,1541.3 737.4,1553.0 739.5,1537.4 741.6,1541.3 743.4,1555.6 745.3,1547.8 747.3,1543.9" fill="none" stroke="#555555" stroke-width="2.5" stroke-linejoin="round" />
<polyline points="146.5,1553.5 151.7,1554.3 157.0,1553.5 160.9,1551.7 164.8,1555.1 168.7,1553.0 173.9,1549.1 177.3,1546.5 180.4,1549.6 184.9,1543.9 188.2,1547.3 193.5,1543.9 198.7,1544.7 202.6,1546.5 207.3,1544.7 211.7,1538.7 218.2,1536.0 223.5,1533.4 228.1,1544.7 231.8,1534.0 236.0,1543.4 241.7,1541.3 244.3,1538.1 249.0,1549.6 252.9,1544.4 257.4,1545.7 262.6,1544.4 268.6,1541.3 273.5,1548.3 277.7,1539.4 284.7,1544.7 289.4,1540.5 293.9,1546.0 297.8,1546.0 301.7,1553.0 306.1,1547.8 310.8,1551.2 318.6,1546.0 323.3,1536.0 327.2,1537.4 331.7,1531.6 336.1,1519.1 340.8,1514.7 346.0,1511.8 350.7,1506.1 353.8,1501.4 357.8,1501.4 362.4,1507.4 366.9,1504.0 372.1,1500.1 377.3,1497.7 385.2,1490.9 389.1,1489.5 393.0,1486.4 397.0,1488.2 400.9,1480.4 404.8,1493.5 408.7,1528.7 412.6,1500.8 416.5,1520.8 420.4,1546.9 424.3,1562.6 428.2,1580.8 432.2,1588.6 435.3,1591.3 438.7,1590.7 441.8,1605.6 444.7,1593.9 447.8,1595.9 451.7,1603.0 454.8,1613.4 457.7,1608.2 460.8,1614.7 464.0,1619.9 466.1,1617.3 468.7,1621.2 472.6,1626.5 476.5,1625.2 479.9,1617.3 482.5,1604.3 485.6,1606.9 489.0,1606.1 492.1,1603.0 495.5,1612.1 498.7,1610.8 502.0,1614.7 505.2,1606.9 508.3,1610.8 510.4,1618.6 513.0,1604.3 515.1,1619.9 518.2,1626.5 519.5,1636.9 522.1,1623.9 524.7,1630.4 527.3,1626.5 531.3,1627.2 534.4,1625.7 537.8,1635.6 540.9,1629.1 544.3,1633.0 546.9,1628.3 550.8,1633.0 553.9,1633.0 555.2,1643.4 557.3,1648.6 559.4,1653.8 561.8,1655.1 563.9,1672.1 563.8,1670.9 564.8,1668.2 563.8,1681.3" fill="none" stroke="#ff8008" stroke-width="2.7" stroke-linejoin="round" />
<path d="M232.6 1470.9 H292.6 M232.6 1459.9 V1481.9 M292.6 1459.9 V1481.9 M289.9 1489.9 H336.9 M289.9 1478.9 V1500.9 M336.9 1478.9 V1500.9 M365.1 1457.8 H407.4 M365.1 1446.8 V1468.8 M407.4 1446.8 V1468.8 M428.2 1498.2 H479.1 M428.2 1487.2 V1509.2 M479.1 1487.2 V1509.2 M443.4 1523.8 H486.9 M443.4 1512.8 V1534.8 M486.9 1512.8 V1534.8 M501.3 1517.0 H523.4 M501.3 1506.0 V1528.0 M523.4 1506.0 V1528.0 M534.4 1480.7 H556.5 M534.4 1469.7 V1491.7 M556.5 1469.7 V1491.7 M534.4 1512.0 H556.5 M534.4 1501.0 V1523.0 M556.5 1501.0 V1523.0" fill="none" stroke="#ff8008" stroke-width="2.0"/>
<path d="M218.8 1511.3 H266.0 M218.8 1503.3 V1519.3 M266.0 1503.3 V1519.3 M365.1 1475.2 H407.9 M365.1 1467.2 V1483.2 M407.9 1467.2 V1483.2 M500.7 1546.1 H523.4 M500.7 1538.1 V1554.1 M523.4 1538.1 V1554.1 M534.4 1557.9 H556.8 M534.4 1549.9 V1565.9 M556.8 1549.9 V1565.9 M714.0 1430.4 H764.3 M714.0 1422.4 V1438.4 M764.3 1422.4 V1438.4 M681.6 1440.3 H769.0 M681.6 1432.3 V1448.3 M769.0 1432.3 V1448.3 M692.6 1451.8 H719.4 M692.6 1443.8 V1459.8 M719.4 1443.8 V1459.8 M647.7 1462.2 H672.2 M647.7 1454.2 V1470.2 M672.2 1454.2 V1470.2 M648.2 1483.4 H670.4 M648.2 1475.4 V1491.4 M670.4 1475.4 V1491.4 M705.6 1462.2 H729.6 M729.6 1454.2 V1470.2" fill="none" stroke="#000" stroke-width="2.0"/>
<path d="M148.0 1499.5 H239.9 M239.9 1491.5 V1507.5" fill="none" stroke="#000" stroke-width="2.4"/>
<polyline points="465.2,1744.7 469.1,1751.7 472.2,1718.6 474.3,1745.2 477.5,1783.8 480.8,1754.3 484.8,1786.9 487.4,1793.4 489.4,1779.1 492.1,1801.2 495.2,1780.4 498.6,1775.9 502.2,1783.0 505.1,1794.2 507.7,1773.3 510.8,1781.7 514.0,1797.3 517.4,1792.1 520.5,1779.1 522.6,1786.9 524.7,1820.8 527.8,1802.5 530.4,1781.7 533.5,1767.3 536.1,1789.5 539.0,1802.5 542.1,1799.9 544.7,1807.8 547.3,1786.9 548.0,1773.8 548.5,1781.4 549.2,1768.6 549.9,1844.3 550.4,1814.2 550.8,1831.8 551.3,1802.5 551.9,1787.5 552.4,1796.3 553.1,1781.7 553.5,1828.6 553.9,1801.2 554.4,1846.9 555.1,1811.2 555.7,1832.0 556.5,1797.3 557.1,1845.0 557.6,1817.2 558.3,1863.6 559.6,1868.8 560.3,1846.3 560.9,1859.4 561.7,1837.5 562.3,1851.8 562.9,1843.4 563.5,1857.3 564.1,1808.5 564.5,1837.0 565.1,1789.5 565.7,1823.3 566.2,1803.6 566.9,1836.4 567.8,1823.3 568.6,1831.0 569.5,1818.2 570.4,1840.7 571.2,1827.6 572.1,1849.5 573.2,1832.6 574.1,1842.4 575.2,1826.0 576.5,1837.3 577.4,1830.7 578.6,1841.7 580.0,1852.9 581.1,1846.4 582.5,1857.3 587.8,1813.0 593.0,1832.5 598.2,1823.4 603.4,1853.4 607.3,1858.6" fill="none" stroke="#ff0000" stroke-width="2.6" stroke-linejoin="round" />
<polyline points="629.6,1734.3 635.6,1730.4 643.5,1764.3 650.0,1724.7 655.2,1747.4 662.5,1718.7" fill="none" stroke="#ff0000" stroke-width="2.7" stroke-linejoin="round" />
<polyline points="520.5,1786.9 522.0,1779.1 523.1,1811.7 524.7,1777.8 526.0,1799.9 527.0,1776.5 528.3,1797.3 529.6,1753.5 530.4,1806.5 532.2,1771.3 533.5,1807.8 535.1,1779.1 536.4,1818.2 538.2,1792.1 539.5,1807.8 540.8,1824.7 542.9,1797.3 544.7,1815.6 546.6,1802.5 548.6,1841.7 550.7,1807.8 552.6,1836.4 553.9,1802.5 555.7,1844.3 557.8,1799.9 559.6,1828.6 561.7,1849.5 563.5,1818.2 565.6,1841.7 566.3,1826.6 566.8,1835.4 567.4,1820.8 568.2,1842.4 568.8,1829.8 569.5,1850.8 570.2,1823.6 570.7,1839.4 571.3,1813.0 572.1,1841.1 572.7,1824.7 573.4,1852.1 574.1,1831.4 574.6,1843.5 575.2,1823.4 576.0,1804.6 576.6,1815.6 577.3,1797.3 577.8,1831.1 578.2,1811.4 578.6,1844.3 579.1,1807.7 579.5,1829.0 579.9,1793.4 580.6,1824.4 581.1,1806.3 581.8,1836.4 582.5,1858.4 583.3,1807.8 584.0,1843.4 584.5,1822.6 585.2,1857.3 585.8,1816.0 586.3,1840.1 587.0,1799.9 587.8,1858.4 588.5,1802.5 589.2,1840.9 589.7,1818.5 590.4,1855.7 591.0,1820.3 591.5,1841.0 592.2,1806.5 592.9,1831.8 593.5,1817.0 594.3,1841.7 594.9,1821.9 595.5,1833.5 596.1,1814.3 596.9,1824.6 597.4,1818.6 598.2,1828.6 598.7,1847.4 599.0,1836.4 599.5,1854.7 600.3,1873.2 601.3,1833.8 601.9,1847.0 602.3,1839.3 602.9,1852.1 603.5,1838.0 604.1,1846.2 604.7,1832.5 605.2,1844.7 605.5,1837.6 606.0,1849.5 606.4,1833.4 606.9,1777.4 607.7,1725.2 608.8,1709.5 610.9,1722.6 612.9,1714.8 614.8,1735.6 617.4,1742.1 620.0,1722.6 622.6,1731.7 626.0,1701.7 629.1,1722.6 630.9,1730.4 633.0,1746.1 635.6,1725.2 637.5,1719.5 639.5,1735.6 641.6,1729.9 644.2,1725.2 647.4,1731.7 649.4,1753.9 651.3,1736.9 653.9,1746.1 656.0,1740.8 659.1,1765.6 661.2,1748.7 663.5,1726.5 665.1,1746.1 667.7,1725.2 670.8,1735.6 672.7,1738.2 674.7,1718.7 676.6,1748.7 678.7,1763.0 680.5,1746.1 682.0,1706.9 683.9,1701.7 685.7,1695.2 687.3,1727.8 688.3,1705.6 689.6,1723.9" fill="none" stroke="#00007f" stroke-width="2.0" stroke-linejoin="round" />
<path d="M454.8 1702.9 H501.2 M454.8 1694.5 V1711.3 M501.2 1694.5 V1711.3 M465.7 1714.4 H508.2 M465.7 1706.0 V1722.8 M508.2 1706.0 V1722.8 M579.2 1706.1 H608.6 M579.2 1697.7 V1714.5 M608.6 1697.7 V1714.5" fill="none" stroke="#ff0000" stroke-width="2.0"/>
<polyline points="418.8,1860.8 422.2,1868.7 426.1,1862.1 430.0,1898.7 433.9,1909.1 437.8,1896.0 441.7,1902.0 445.6,1908.3 448.8,1900.0 452.2,1928.6 455.5,1929.2 459.5,1887.4 463.4,1888.2 466.5,1927.3 470.4,1916.1 474.3,1924.7 482.1,1898.1 489.4,1914.3 491.8,1960.7 493.9,1961.2 496.5,1931.3 499.1,1924.7 501.7,1931.3 504.3,1909.9 509.0,1952.6 511.6,1922.1 514.7,1920.8 518.7,1926.0 522.0,1939.6 524.7,1920.8 527.8,1916.9 529.6,1944.8 534.3,1921.6 536.9,1920.0 542.6,1946.9 546.0,1916.9 547.9,1913.0 550.7,1932.6 552.6,1926.0 555.7,1952.1 557.8,1958.1 560.4,1928.6 563.0,1915.1 564.3,1973.0 566.9,1979.5 570.0,1941.7 571.6,1966.5 573.4,1996.4 575.5,2004.8 578.1,1934.4 579.9,1957.3 582.5,1988.6 583.9,2003.0 585.7,1970.4 587.2,1982.1 589.1,2010.0 590.9,1986.0 592.5,1968.5 594.3,1997.8 596.1,2006.4 598.2,1975.6 600.8,1920.8 602.1,1926.1 603.9,1957.4 604.4,1993.0 604.7,1972.2 605.2,2006.9 605.9,1984.4 606.4,1997.5 607.0,1975.6 607.6,2000.0 608.0,1985.8 608.6,2009.5 609.3,1973.8 609.8,1994.6 610.4,1960.0 610.9,1996.6 611.3,1975.2 611.7,2010.8 612.7,1981.7 613.4,1998.7 614.3,1970.4 616.2,1970.4 617.7,1936.5 619.6,1954.7 620.9,1952.1 622.2,1962.6 623.5,1999.1 625.3,2037.7 626.1,1976.9 628.2,1978.2 630.0,1996.5" fill="none" stroke="#7f007f" stroke-width="2.5" stroke-linejoin="round" />
<path d="M426.1 1850.9 H463.4 M426.1 1844.5 V1857.3 M463.4 1844.5 V1857.3 M457.9 1870.8 H520.5 M457.9 1864.4 V1877.2 M520.5 1864.4 V1877.2 M531.2 1893.4 H589.8 M531.2 1887.0 V1899.8 M589.8 1887.0 V1899.8 M605.5 1907.8 H636.5 M605.5 1901.4 V1914.2 M636.5 1901.4 V1914.2" fill="none" stroke="#000" stroke-width="2.0"/>
<path d="M374.3 225.9l8.3 10.6l-8.3 10.6l-8.3 -10.6z M706.4 79.9l8.3 10.6l-8.3 10.6l-8.3 -10.6z M719.8 256.7l8.3 10.6l-8.3 10.6l-8.3 -10.6z M384.8 435.5l8.3 10.6l-8.3 10.6l-8.3 -10.6z M386.4 625.9l8.3 10.6l-8.3 10.6l-8.3 -10.6z M715.7 491.6l8.3 10.6l-8.3 10.6l-8.3 -10.6z M383.3 828.9l8.3 10.6l-8.3 10.6l-8.3 -10.6z M713.3 655.5l8.3 10.6l-8.3 10.6l-8.3 -10.6z M429.0 1028.4l8.3 10.6l-8.3 10.6l-8.3 -10.6z M695.6 867.9l8.3 10.6l-8.3 10.6l-8.3 -10.6z M429.5 1242.7l8.3 10.6l-8.3 10.6l-8.3 -10.6z M717.3 1095.4l8.3 10.6l-8.3 10.6l-8.3 -10.6z M430.3 1440.6l8.3 10.6l-8.3 10.6l-8.3 -10.6z M713.4 1263.8l8.3 10.6l-8.3 10.6l-8.3 -10.6z M472.6 1628.9l8.3 10.6l-8.3 10.6l-8.3 -10.6z M705.1 1453.4l8.3 10.6l-8.3 10.6l-8.3 -10.6z M492.0 1802.9l8.3 10.6l-8.3 10.6l-8.3 -10.6z M454.8 1930.3l8.3 10.6l-8.3 10.6l-8.3 -10.6z" fill="#00f"/>
<rect x="148.0" y="28.2" width="707.2" height="2024.6" fill="none" stroke="#000" stroke-width="3.8"/>
<path d="M183.3 29.7v10.0 M183.3 2051.3v-10.0 M218.7 29.7v10.0 M218.7 2051.3v-10.0 M254.0 29.7v10.0 M254.0 2051.3v-10.0 M289.4 29.7v10.0 M289.4 2051.3v-10.0 M324.7 29.7v13.0 M324.7 2051.3v-13.0 M360.0 29.7v10.0 M360.0 2051.3v-10.0 M395.4 29.7v10.0 M395.4 2051.3v-10.0 M430.7 29.7v10.0 M430.7 2051.3v-10.0 M466.1 29.7v10.0 M466.1 2051.3v-10.0 M501.4 29.7v13.0 M501.4 2051.3v-13.0 M536.7 29.7v10.0 M536.7 2051.3v-10.0 M572.1 29.7v10.0 M572.1 2051.3v-10.0 M607.4 29.7v10.0 M607.4 2051.3v-10.0 M642.8 29.7v10.0 M642.8 2051.3v-10.0 M678.1 29.7v13.0 M678.1 2051.3v-13.0 M713.4 29.7v10.0 M713.4 2051.3v-10.0 M748.8 29.7v10.0 M748.8 2051.3v-10.0 M784.1 29.7v10.0 M784.1 2051.3v-10.0 M819.5 29.7v10.0 M819.5 2051.3v-10.0" stroke="#000" stroke-width="2.8" fill="none"/>
<path d="M134.3 71.8H146.2 M134.3 130.0H146.2 M134.3 188.3H146.2 M134.3 246.6H146.2 M134.3 305.0H146.2" stroke="#00007f" stroke-width="3.0" fill="none"/>
<path d="M147.3 303.5V318" stroke="#00007f" stroke-width="2.6"/>
<path d="M855.2 303.6V315.6" stroke="#00007f" stroke-width="3.6"/>
<path d="M131.2 468.9H146.2 M131.2 570.1H146.2 M131.2 671.5H146.2" stroke="#007f7f" stroke-width="3.0" fill="none"/>
<path d="M133.0 875.4H146.2 M133.0 968.6H146.2 M133.0 1061.9H146.2" stroke="#7f7f00" stroke-width="3.0" fill="none"/>
<path d="M132.4 1253.4H150.0 M132.4 1333.1H150.0 M132.4 1412.9H150.0 M132.4 1492.6H150.0" stroke="#7f00ff" stroke-width="3.0" fill="none"/>
<path d="M132.7 1714.0H146.2 M132.7 1759.6H146.2 M132.7 1805.0H146.2 M132.7 1849.9H146.2" stroke="#000" stroke-width="3.0" fill="none"/>
<path d="M857.0 220.1H871.8 M857.0 348.0H871.8 M857.0 476.6H871.8" stroke="#007f00" stroke-width="3.0" fill="none"/>
<path d="M857.0 672.6H873.8 M857.0 724.8H873.8 M857.0 776.7H873.8 M857.0 828.9H873.8 M857.0 880.9H873.8" stroke="#007fff" stroke-width="3.0" fill="none"/>
<path d="M852.7 1045.8H870.8 M852.7 1139.4H870.8 M852.7 1233.1H870.8 M852.7 1326.7H870.8" stroke="#0000ff" stroke-width="3.0" fill="none"/>
<path d="M857.0 1475.7H871.8 M857.0 1529.2H871.8 M857.0 1582.9H871.8 M857.0 1636.6H871.8 M857.0 1690.5H871.8" stroke="#000" stroke-width="3.0" fill="none"/>
<path d="M857.0 1858.5H870.8 M857.0 1893.8H870.8 M857.0 1929.6H870.8 M857.0 1965.0H870.8 M857.0 2000.3H870.8" stroke="#7f007f" stroke-width="3.0" fill="none"/>
<text x="145.3" y="20.1" font-size="27.5" fill="#000" text-anchor="middle" class="sa" >37</text>
<text x="145.3" y="2086.9" font-size="27.5" fill="#000" text-anchor="middle" class="sa" >37</text>
<text x="324.4" y="20.1" font-size="27.5" fill="#000" text-anchor="middle" class="sa" >38</text>
<text x="324.4" y="2084.2" font-size="27.5" fill="#000" text-anchor="middle" class="sa" >38</text>
<text x="501.1" y="20.1" font-size="27.5" fill="#000" text-anchor="middle" class="sa" >39</text>
<text x="501.1" y="2084.2" font-size="27.5" fill="#000" text-anchor="middle" class="sa" >39</text>
<text x="677.8" y="20.1" font-size="27.5" fill="#000" text-anchor="middle" class="sa" >40</text>
<text x="677.8" y="2084.2" font-size="27.5" fill="#000" text-anchor="middle" class="sa" >40</text>
<text x="850.8" y="20.1" font-size="27.5" fill="#000" text-anchor="middle" class="sa" >41</text>
<text x="850.8" y="2084.2" font-size="27.5" fill="#000" text-anchor="middle" class="sa" >41</text>
<text transform="translate(503.2 2112.5) scale(0.965 1)" font-size="31.4" fill="#000" text-anchor="middle" class="sa">Age (ky BP)</text>
<text x="124.5" y="80.6" font-size="26" fill="#00007f" text-anchor="end" class="sa" >-9</text><text x="124.5" y="197.1" font-size="26" fill="#00007f" text-anchor="end" class="sa" >-7</text><text x="124.5" y="313.8" font-size="26" fill="#00007f" text-anchor="end" class="sa" >-5</text>
<text x="124.5" y="477.7" font-size="26" fill="#007f7f" text-anchor="end" class="sa" >-11</text><text x="124.5" y="578.9" font-size="26" fill="#007f7f" text-anchor="end" class="sa" >-9</text><text x="124.5" y="680.3" font-size="26" fill="#007f7f" text-anchor="end" class="sa" >-7</text>
<text x="125.5" y="884.2" font-size="26" fill="#7f7f00" text-anchor="end" class="sa" >-5.5</text><text x="125.5" y="977.4" font-size="26" fill="#7f7f00" text-anchor="end" class="sa" >-6.5</text><text x="125.5" y="1070.7" font-size="26" fill="#7f7f00" text-anchor="end" class="sa" >-7.5</text>
<text x="124.5" y="1262.2" font-size="26" fill="#7f00ff" text-anchor="end" class="sa" >-3</text><text x="124.5" y="1341.9" font-size="26" fill="#7f00ff" text-anchor="end" class="sa" >-4</text><text x="124.5" y="1421.7" font-size="26" fill="#7f00ff" text-anchor="end" class="sa" >-5</text><text x="124.5" y="1501.4" font-size="26" fill="#7f00ff" text-anchor="end" class="sa" >-6</text>
<text x="122.5" y="1722.8" font-size="26" fill="#000" text-anchor="end" class="sa" >-2</text><text x="122.5" y="1768.4" font-size="26" fill="#000" text-anchor="end" class="sa" >-4</text><text x="122.5" y="1813.8" font-size="26" fill="#000" text-anchor="end" class="sa" >-6</text><text x="122.5" y="1858.7" font-size="26" fill="#000" text-anchor="end" class="sa" >-8</text>
<text x="879.5" y="228.9" font-size="26" fill="#007f00" text-anchor="start" class="sa" >-5</text><text x="879.5" y="356.8" font-size="26" fill="#007f00" text-anchor="start" class="sa" >-3</text><text x="879.5" y="485.4" font-size="26" fill="#007f00" text-anchor="start" class="sa" >-1</text>
<text x="882.0" y="681.4" font-size="26" fill="#007fff" text-anchor="start" class="sa" >-10</text><text x="882.0" y="785.5" font-size="26" fill="#007fff" text-anchor="start" class="sa" >-9</text><text x="882.0" y="889.7" font-size="26" fill="#007fff" text-anchor="start" class="sa" >-8</text>
<text x="879.5" y="1054.6" font-size="26" fill="#0000ff" text-anchor="start" class="sa" >-3</text><text x="879.5" y="1148.2" font-size="26" fill="#0000ff" text-anchor="start" class="sa" >-4</text><text x="879.5" y="1241.9" font-size="26" fill="#0000ff" text-anchor="start" class="sa" >-5</text><text x="879.5" y="1335.5" font-size="26" fill="#0000ff" text-anchor="start" class="sa" >-6</text>
<text x="881.5" y="1484.5" font-size="26" fill="#000" text-anchor="start" class="sa" >-3</text><text x="881.5" y="1591.7" font-size="26" fill="#000" text-anchor="start" class="sa" >-5</text><text x="881.5" y="1699.3" font-size="26" fill="#000" text-anchor="start" class="sa" >-7</text>
<text x="879.5" y="1867.3" font-size="26" fill="#7f007f" text-anchor="start" class="sa" >-4</text><text x="879.5" y="1938.4" font-size="26" fill="#7f007f" text-anchor="start" class="sa" >-6</text><text x="879.5" y="2009.1" font-size="26" fill="#7f007f" text-anchor="start" class="sa" >-8</text>
<text transform="translate(46.6 186.9) rotate(-90) scale(0.955 1)" font-size="31.4" fill="#00007f" text-anchor="middle" class="sa">MSL <tspan class="sd" font-size="31">δ</tspan><tspan font-size="27" dy="-11.8">18</tspan><tspan dy="11.8">O</tspan></text><text transform="translate(82.7 186.0) rotate(-90) scale(0.955 1)" font-size="31.4" fill="#00007f" text-anchor="middle" class="sa">(‰, VPDB)</text>
<text transform="translate(42.1 575.0) rotate(-90) scale(0.955 1)" font-size="31.4" fill="#007f7f" text-anchor="middle" class="sa">ZJD171 <tspan class="sd" font-size="31">δ</tspan><tspan font-size="27" dy="-11.8">18</tspan><tspan dy="11.8">O</tspan></text><text transform="translate(78.2 573.8) rotate(-90) scale(0.955 1)" font-size="31.4" fill="#007f7f" text-anchor="middle" class="sa">(‰, VPDB)</text>
<text transform="translate(29.3 970.9) rotate(-90) scale(0.955 1)" font-size="31.4" fill="#7f7f00" text-anchor="middle" class="sa">ELC-B <tspan class="sd" font-size="31">δ</tspan><tspan font-size="27" dy="-11.8">18</tspan><tspan dy="11.8">O</tspan></text><text transform="translate(65.4 970.9) rotate(-90) scale(0.955 1)" font-size="31.4" fill="#7f7f00" text-anchor="middle" class="sa">(‰, VPDB)</text>
<text transform="translate(41.4 1376.0) rotate(-90) scale(0.955 1)" font-size="31.4" fill="#7f00ff" text-anchor="middle" class="sa">PAR15 <tspan class="sd" font-size="31">δ</tspan><tspan font-size="27" dy="-11.8">18</tspan><tspan dy="11.8">O</tspan></text><text transform="translate(78.2 1378.3) rotate(-90) scale(0.955 1)" font-size="31.4" fill="#7f00ff" text-anchor="middle" class="sa">(‰, VPDB)</text>
<text transform="translate(944.0 349.9) rotate(-90) scale(0.955 1)" font-size="31.4" fill="#007f00" text-anchor="middle" class="sa">MWS-2 <tspan class="sd" font-size="31">δ</tspan><tspan font-size="27" dy="-11.8">18</tspan><tspan dy="11.8">O</tspan></text><text transform="translate(980.1 345.7) rotate(-90) scale(0.955 1)" font-size="31.4" fill="#007f00" text-anchor="middle" class="sa">(‰, VPDB)</text>
<text transform="translate(954.1 790.2) rotate(-90) scale(0.955 1)" font-size="31.4" fill="#007fff" text-anchor="middle" class="sa">Wulu30 <tspan class="sd" font-size="31">δ</tspan><tspan font-size="27" dy="-11.8">18</tspan><tspan dy="11.8">O</tspan></text><text transform="translate(990.7 787.6) rotate(-90) scale(0.955 1)" font-size="31.4" fill="#007fff" text-anchor="middle" class="sa">(‰, VPDB)</text>
<text transform="translate(951.1 1178.2) rotate(-90) scale(0.955 1)" font-size="31.4" fill="#0000ff" text-anchor="middle" class="sa">PAR27 <tspan class="sd" font-size="31">δ</tspan><tspan font-size="27" dy="-11.8">18</tspan><tspan dy="11.8">O</tspan></text><text transform="translate(987.7 1181.2) rotate(-90) scale(0.955 1)" font-size="31.4" fill="#0000ff" text-anchor="middle" class="sa">(‰, VPDB)</text>
<text transform="translate(948.5 1584.8) rotate(-90) scale(0.955 1)" font-size="31.4" fill="#000" text-anchor="middle" class="sa">LSF13 <tspan class="sd" font-size="31">δ</tspan><tspan font-size="27" dy="-11.8">18</tspan><tspan dy="11.8">O</tspan></text><text transform="translate(984.7 1583.7) rotate(-90) scale(0.955 1)" font-size="31.4" fill="#000" text-anchor="middle" class="sa">(‰, VPDB)</text>
<text transform="translate(951.9 1921.6) rotate(-90) scale(0.955 1)" font-size="31.4" fill="#7f007f" text-anchor="middle" class="sa">TBR10-13 <tspan class="sd" font-size="31">δ</tspan><tspan font-size="27" dy="-11.8">18</tspan><tspan dy="11.8">O</tspan></text><text transform="translate(988.4 1919.0) rotate(-90) scale(0.955 1)" font-size="31.4" fill="#7f007f" text-anchor="middle" class="sa">(‰, VPDB)</text>
<text transform="translate(42.4 1781) rotate(-90) scale(0.955 1)" font-size="31.4" text-anchor="middle" class="sa"><tspan fill="#f00">TBV5</tspan><tspan fill="#000"> and </tspan><tspan fill="#00f">TBV40</tspan></text>
<text transform="translate(78.5 1780.7) rotate(-90) scale(0.955 1)" font-size="31.4" fill="#000" text-anchor="middle" class="sa"><tspan class="sd" font-size="31">δ</tspan><tspan font-size="27" dy="-11.8">18</tspan><tspan dy="11.8">O</tspan> (‰, VPDB)</text>
<text x="178.7" y="166.5" font-size="32" fill="#000" class="se">(<tspan class="sa" font-size="31">a</tspan>)</text>
<text x="176.8" y="367.8" font-size="32" fill="#000" class="se">(<tspan class="sa" font-size="31">b</tspan>)</text>
<text x="178.6" y="571.6" font-size="32" fill="#000" class="se">(<tspan class="sa" font-size="31">c</tspan>)</text>
<text x="179.9" y="804.3" font-size="32" fill="#000" class="se">(<tspan class="sa" font-size="31">d</tspan>)</text>
<text x="176.0" y="959.4" font-size="32" fill="#000" class="se">(<tspan class="sa" font-size="31">e</tspan>)</text>
<text x="181.4" y="1202.0" font-size="32" fill="#000" class="se">(<tspan class="sa" font-size="31">f</tspan>)</text>
<text x="177.3" y="1377.8" font-size="32" fill="#000" class="se">(<tspan class="sa" font-size="31">g</tspan>)</text>
<text x="179.4" y="1599.9" font-size="32" fill="#000" class="se">(<tspan class="sa" font-size="31">h</tspan>)</text>
<text x="188.1" y="1788.5" font-size="32" fill="#000" class="se">(<tspan class="sa" font-size="31">i</tspan>)</text>
<text x="185.7" y="1949.7" font-size="32" fill="#000" class="se">(<tspan class="sa" font-size="31">j</tspan>)</text>
</svg>
</body></html>
